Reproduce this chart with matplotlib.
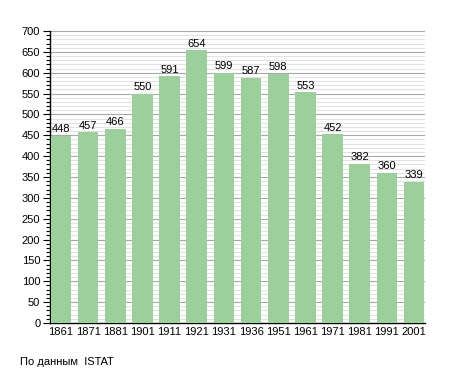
import matplotlib
matplotlib.use("Agg")
import matplotlib.pyplot as plt
from matplotlib.ticker import MultipleLocator

years = ["1861", "1871", "1881", "1901", "1911", "1921", "1931", "1936",
         "1951", "1961", "1971", "1981", "1991", "2001"]
population = [448, 457, 466, 550, 591, 654, 599, 587, 598, 553, 452, 382, 360, 339]
source_note = "По данным  ISTAT"

plt.rcParams['font.family'] = ['Liberation Sans', 'DejaVu Sans']

fig = plt.figure(figsize=(4.55, 3.73), dpi=100)
ax = fig.add_axes([50/455, 1 - 323/373, 375/455, (323-31)/373])

x = list(range(len(years)))
w = 0.76
bars = ax.bar(x, population, width=w, color="#9ccf9c", zorder=3)
for xi, v in zip(x, population):
    ax.text(xi, v + 4, str(v), ha="center", va="bottom", fontsize=8, zorder=4)

ax.set_xlim(-w/2 - 0.02, len(years) - 1 + w/2 + 0.02)
ax.set_ylim(0, 700)
ax.yaxis.set_major_locator(MultipleLocator(50))
ax.yaxis.set_minor_locator(MultipleLocator(10))
ax.grid(axis="y", which="major", color="#a8a8a8", linewidth=0.8, zorder=0)
ax.grid(axis="y", which="minor", color="#e2e2e2", linewidth=0.8, zorder=0)
ax.set_axisbelow(True)

ax.set_xticks(x)
ax.set_xticklabels(years)
ax.tick_params(axis="x", length=0, labelsize=8, pad=3)
ax.tick_params(axis="y", which="major", length=5, width=0.8, labelsize=8, direction="out", pad=2)
ax.tick_params(axis="y", which="minor", length=3, width=0.8, direction="out")

for s in ["top", "right"]:
    ax.spines[s].set_visible(False)
ax.spines["left"].set_linewidth(1.0)
ax.spines["bottom"].set_linewidth(1.0)

fig.text(20/455, 1 - 362/373, source_note, fontsize=8, ha="left", va="center")

fig.savefig("out.png", dpi=100)
